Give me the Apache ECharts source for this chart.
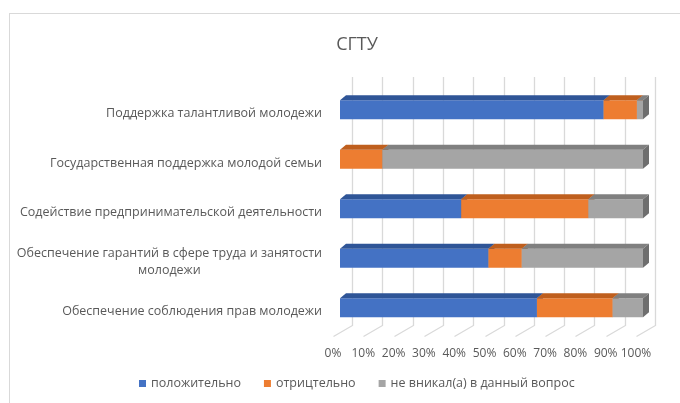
<!DOCTYPE html>
<html>
<head>
<meta charset="utf-8">
<script src="https://cdn.jsdelivr.net/npm/echarts@6/dist/echarts.min.js"></script>
<style>
html,body{margin:0;padding:0;background:#fff;}
#wrap{position:relative;width:680px;height:403px;overflow:hidden;}
#frame{position:absolute;left:9px;top:13px;width:720px;height:440px;border:1px solid #D9D9D9;box-sizing:border-box;}
#c{position:absolute;left:0;top:0;width:680px;height:403px;}
</style>
</head>
<body>
<div id="wrap"><div id="frame"></div><div id="c"></div></div>
<script>
// ---- data ----
const title = 'СГТУ';
const categories = [
  'Поддержка талантливой молодежи',
  'Государственная поддержка молодой семьи',
  'Содействие предпринимательской деятельности',
  'Обеспечение гарантий в сфере труда и занятости молодежи',
  'Обеспечение соблюдения прав молодежи'
];
const seriesNames = ['положительно', 'отрицтельно', 'не вникал(а) в данный вопрос'];
const positive = [87, 0, 40, 49, 65];
const negative = [11, 14, 42, 11, 25];
const unaware  = [2, 86, 18, 40, 10];
const xTicks = [0, 10, 20, 30, 40, 50, 60, 70, 80, 90, 100];

// ---- styles ----
const FONT = 'Open Sans';
const TXT = '#595959';
const GRID_COLOR = '#D9D9D9';
const colors = [
  {front: '#4472C4', top: '#2F5597', side: '#2F5597'},
  {front: '#ED7D31', top: '#BF5F1E', side: '#AE5A21'},
  {front: '#A5A5A5', top: '#808080', side: '#6E6E6E'}
];
const BAR_H = 19, DX = 6, DY = 5, OX = 7, OY = -4;
const GRID_TOP = 89, GRID_BOTTOM = 403 - 66.5;

const valueSets = [positive, negative, unaware];
function segData(k) {
  return categories.map((c, i) => {
    let s = 0;
    for (let j = 0; j < k; j++) s += valueSets[j][i];
    return [i, s, s + valueSets[k][i]];
  });
}

function barSeries(k) {
  const col = colors[k];
  return {
    type: 'custom',
    name: seriesNames[k],
    coordinateSystem: 'cartesian2d',
    itemStyle: {color: col.front},
    encode: {x: [1, 2], y: 0},
    z: 3 + k,
    data: segData(k),
    renderItem: function (params, api) {
      const cat = api.value(0), s = api.value(1), e = api.value(2);
      if (e - s <= 0) return;
      const p0 = api.coord([s, cat]);
      const p1 = api.coord([e, cat]);
      const x0 = p0[0] + OX, x1 = p1[0] + OX;
      const yc = p0[1] + OY;
      const y0 = yc - BAR_H / 2, y1 = yc + BAR_H / 2;
      return {
        type: 'group',
        children: [
          {type: 'rect', shape: {x: x0, y: y0, width: x1 - x0, height: BAR_H}, style: {fill: col.front}},
          {type: 'polygon', shape: {points: [[x0, y0], [x1, y0], [x1 + DX, y0 - DY], [x0 + DX, y0 - DY]]}, style: {fill: col.top}},
          {type: 'polygon', shape: {points: [[x1, y0], [x1 + DX, y0 - DY], [x1 + DX, y1 - DY], [x1, y1]]}, style: {fill: col.side}}
        ]
      };
    }
  };
}

function wrapLabel(text, maxChars) {
  const words = text.split(' ');
  const lines = [];
  let cur = '';
  words.forEach(w => {
    if (cur && (cur + ' ' + w).length > maxChars) { lines.push(cur); cur = w; }
    else cur = cur ? cur + ' ' + w : w;
  });
  if (cur) lines.push(cur);
  return lines.map(l => '{c|' + l + '}').join('\n');
}

const chart = echarts.init(document.getElementById('c'));
chart.setOption({
  animation: false,
  backgroundColor: 'transparent',
  title: {
    text: title, left: 352, top: 31, textAlign: 'center',
    textStyle: {fontFamily: FONT, fontSize: 18, fontWeight: 'normal', color: TXT}
  },
  legend: {
    data: seriesNames,
    left: 134, top: 372,
    icon: 'rect', itemWidth: 7, itemHeight: 7, itemGap: 23,
    textStyle: {fontFamily: FONT, fontSize: 12.5, color: TXT}
  },
  grid: {left: 333, right: 44, top: GRID_TOP, bottom: 66.5, containLabel: false},
  xAxis: {
    type: 'value', min: 0, max: 100, interval: 10,
    axisLine: {show: false}, axisTick: {show: false}, splitLine: {show: false},
    axisLabel: {formatter: '{value}%', margin: 11, fontFamily: FONT, fontSize: 12, color: TXT}
  },
  yAxis: {
    type: 'category', data: categories, inverse: true,
    axisLine: {show: false}, axisTick: {show: false}, splitLine: {show: false},
    axisLabel: {
      margin: 11, fontFamily: FONT, fontSize: 12.5, color: TXT, lineHeight: 17,
      formatter: v => wrapLabel(v, 47),
      rich: {c: {align: 'center', fontFamily: FONT, fontSize: 12.5, color: TXT, lineHeight: 17}}
    }
  },
  series: [barSeries(0), barSeries(1), barSeries(2)]
});

// 3D gridlines (back wall + floor), positioned through the x axis scale
const gridElements = [];
xTicks.forEach(v => {
  const x = Math.round(chart.convertToPixel({xAxisIndex: 0}, v)) + 0.5;
  gridElements.push({
    type: 'polyline', z: 1, silent: true,
    shape: {points: [[x + 19, GRID_TOP - 12], [x + 19, GRID_BOTTOM - 11], [x, GRID_BOTTOM]]},
    style: {stroke: GRID_COLOR, lineWidth: 1.3, fill: 'none'}
  });
});
chart.setOption({graphic: {elements: gridElements}});
</script>
</body>
</html>
